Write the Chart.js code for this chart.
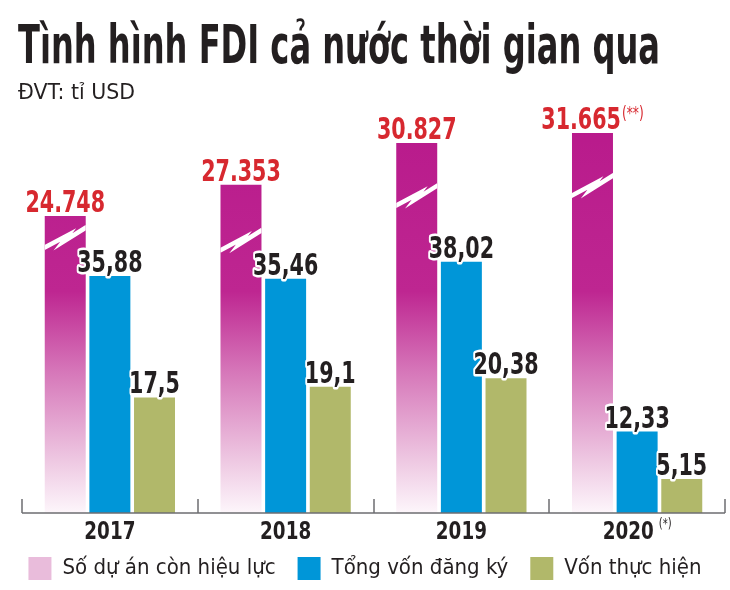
<!DOCTYPE html>
<html>
<head>
<meta charset="utf-8">
<script src="https://cdn.jsdelivr.net/npm/chart.js@4.4.1/dist/chart.umd.min.js"></script>
<style>
  html, body { margin: 0; padding: 0; background: #fff; }
  #wrap { position: relative; width: 730px; height: 590px; overflow: hidden; }
  #fdiChart { position: absolute; left: 0; top: 0; }
  #title {
    position: absolute; left: 18px; top: 14px; margin: 0;
    font: bold 53px "DejaVu Sans Condensed", "Liberation Sans Narrow", sans-serif;
    color: #231f20; white-space: nowrap; transform-origin: 0 0;
  }
  #unit {
    position: absolute; left: 18px; top: 79px;
    font: 22px "DejaVu Sans Condensed", "Liberation Sans Narrow", sans-serif;
    color: #231f20; white-space: nowrap; transform-origin: 0 0;
  }
</style>
</head>
<body>
<div id="wrap">
  <canvas id="fdiChart" width="730" height="590"></canvas>
  <h1 id="title">Tình hình FDI cả nước thời gian qua</h1>
  <div id="unit">ĐVT: tỉ USD</div>
</div>
<script>
const years = ['2017', '2018', '2019', '2020'];
const yearNotes = ['', '', '', '(*)'];
const projects = [24748, 27353, 30827, 31665];
const projectNotes = ['', '', '', '(**)'];
const registered = [35.88, 35.46, 38.02, 12.33];
const disbursed = [17.5, 19.1, 20.38, 5.15];
const seriesNames = ['Số dự án còn hiệu lực', 'Tổng vốn đăng ký', 'Vốn thực hiện'];

const NARROW = '"DejaVu Sans Condensed", "Liberation Sans Narrow", sans-serif';
const MAGENTA = '#b8198b';
const BLUE = '#0096d8';
const OLIVE = '#b1b86a';
const RED = '#d7282f';
const INK = '#231f20';

// squeeze the title / unit line to the reference widths
const titleEl = document.getElementById('title');
titleEl.style.transform = 'scaleX(' + (642 / titleEl.offsetWidth) + ')';
const unitEl = document.getElementById('unit');
unitEl.style.transform = 'scaleX(' + (117 / unitEl.offsetWidth) + ')';

function fmtProjects(v) { return String(v).replace(/\B(?=(\d{3})+(?!\d))/g, '.'); }
function fmtUsd(v) { return String(v).replace('.', ','); }

// condensed text: squeezed horizontally by sx
function textWidth(ctx, txt, font, sx) {
  ctx.font = font;
  return ctx.measureText(txt).width * sx;
}
function drawText(ctx, txt, x, y, font, sx, fill, halo) {
  ctx.save();
  ctx.translate(x, y);
  ctx.scale(sx, 1);
  ctx.font = font;
  ctx.textAlign = 'left';
  ctx.textBaseline = 'alphabetic';
  if (halo) {
    ctx.lineWidth = 5;
    ctx.lineJoin = 'round';
    ctx.strokeStyle = '#fff';
    ctx.strokeText(txt, 0, 0);
  }
  ctx.fillStyle = fill;
  ctx.fillText(txt, 0, 0);
  ctx.restore();
}

function magentaFill(c) {
  const area = c.chart.chartArea;
  if (!area) return MAGENTA;
  const g = c.chart.ctx.createLinearGradient(0, area.top, 0, area.bottom);
  g.addColorStop(0, '#b8198b');
  g.addColorStop(0.45, '#be2691');
  g.addColorStop(0.65, '#d677b9');
  g.addColorStop(0.87, '#eec8e2');
  g.addColorStop(1, '#fdf6fb');
  return g;
}

const VALUE_FONT = 'bold 31px ' + NARROW;
const NOTE_FONT = '17px ' + NARROW;
const YEAR_FONT = 'bold 24px ' + NARROW;
const YEAR_NOTE_FONT = '14px ' + NARROW;

// value labels, lightning "break" marks, baseline and year labels
const barLabels = {
  id: 'barLabels',
  afterDatasetsDraw(chart, args, opts) {
    const ctx = chart.ctx;
    ctx.save();
    const m0 = chart.getDatasetMeta(0);
    m0.data.forEach((bar, i) => {
      const w = bar.width, x0 = bar.x - w / 2, yc = bar.y + opts.boltOffsets[i];
      ctx.save();
      ctx.beginPath();
      ctx.rect(x0, bar.y, w, bar.base - bar.y);
      ctx.clip();
      ctx.beginPath();
      ctx.moveTo(x0 - 1, yc + 10);
      ctx.lineTo(x0 + 0.57 * w, yc - 3);
      ctx.lineTo(x0 + 0.44 * w, yc + 4);
      ctx.lineTo(x0 + w + 1, yc - 11);
      ctx.strokeStyle = '#fff';
      ctx.lineWidth = 4.5;
      ctx.lineJoin = 'miter';
      ctx.stroke();
      ctx.restore();
    });

    chart.data.datasets.forEach((ds, di) => {
      const meta = chart.getDatasetMeta(di);
      meta.data.forEach((bar, i) => {
        const v = ds.data[i];
        const txt = di === 0 ? fmtProjects(v) : fmtUsd(v);
        const note = di === 0 ? projectNotes[i] : '';
        const tw = textWidth(ctx, txt, VALUE_FONT, 0.74);
        const nw = note ? textWidth(ctx, note, NOTE_FONT, 0.8) + 1 : 0;
        const x = bar.x - (tw + nw) / 2;
        const y = bar.y - 4;
        if (di === 0) {
          drawText(ctx, txt, x, y, VALUE_FONT, 0.74, RED, false);
          if (note) drawText(ctx, note, x + tw + 1, y - 10, NOTE_FONT, 0.8, RED, false);
        } else {
          drawText(ctx, txt, x, y, VALUE_FONT, 0.74, INK, true);
        }
      });
    });
    ctx.restore();
  },
  afterDraw(chart) {
    const ctx = chart.ctx;
    const xs = chart.scales.x;
    const area = chart.chartArea;
    const n = years.length;
    const step = (area.right - area.left) / n;
    ctx.save();
    ctx.strokeStyle = '#6d6e71';
    ctx.lineWidth = 1.5;
    ctx.beginPath();
    ctx.moveTo(area.left, area.bottom);
    ctx.lineTo(area.right, area.bottom);
    for (let i = 0; i <= n; i++) {
      const x = Math.round(xs.getPixelForValue(0) - step / 2 + i * step);
      ctx.moveTo(x, area.bottom);
      ctx.lineTo(x, area.bottom - 14);
    }
    ctx.stroke();
    years.forEach((yr, i) => {
      const cx = xs.getPixelForValue(i);
      const w1 = textWidth(ctx, yr, YEAR_FONT, 0.85);
      const w2 = yearNotes[i] ? textWidth(ctx, yearNotes[i], YEAR_NOTE_FONT, 0.8) + 5 : 0;
      const x = cx - (w1 + w2) / 2;
      const y = area.bottom + 26;
      drawText(ctx, yr, x, y, YEAR_FONT, 0.85, INK, false);
      if (yearNotes[i]) drawText(ctx, yearNotes[i], x + w1 + 5, y - 11, YEAR_NOTE_FONT, 0.8, INK, false);
    });
    ctx.restore();
  }
};

const legendColors = ['#e9bcdb', BLUE, OLIVE];

// invisible axes just reserve the side margins
const hiddenAxis = (width, extra) => Object.assign({
  display: true,
  grid: { display: false },
  border: { display: false },
  ticks: { display: false },
  afterFit(s) { s.width = width; }
}, extra);

new Chart(document.getElementById('fdiChart'), {
  type: 'bar',
  data: {
    labels: years,
    datasets: [
      { label: seriesNames[0], data: projects, yAxisID: 'y2', backgroundColor: magentaFill },
      { label: seriesNames[1], data: registered, yAxisID: 'y', backgroundColor: BLUE },
      { label: seriesNames[2], data: disbursed, yAxisID: 'y', backgroundColor: OLIVE }
    ]
  },
  options: {
    responsive: false,
    animation: false,
    devicePixelRatio: 1,
    layout: { padding: { top: 110, left: 0, right: 0, bottom: 0 } },
    datasets: { bar: { categoryPercentage: 0.762, barPercentage: 0.918, borderWidth: 0 } },
    scales: {
      x: {
        grid: { display: false },
        border: { display: false },
        ticks: { display: false },
        afterFit(s) { s.height = 22; }
      },
      y: hiddenAxis(22, { position: 'left', min: 0, max: 61 }),
      y2: hiddenAxis(5, { position: 'right', min: 0, max: 33583 })
    },
    plugins: {
      tooltip: { enabled: false },
      barLabels: { boltOffsets: [22, 56, 53, 53] },
      legend: {
        position: 'bottom',
        onClick: null,
        labels: {
          color: INK,
          font: { family: NARROW, size: 22 },
          boxWidth: 23,
          boxHeight: 23,
          padding: 22,
          generateLabels(chart) {
            return chart.data.datasets.map((ds, i) => ({
              text: ds.label,
              fillStyle: legendColors[i],
              strokeStyle: 'rgba(0,0,0,0)',
              lineWidth: 0,
              fontColor: INK,
              datasetIndex: i
            }));
          }
        }
      }
    }
  },
  plugins: [barLabels]
});
</script>
</body>
</html>
